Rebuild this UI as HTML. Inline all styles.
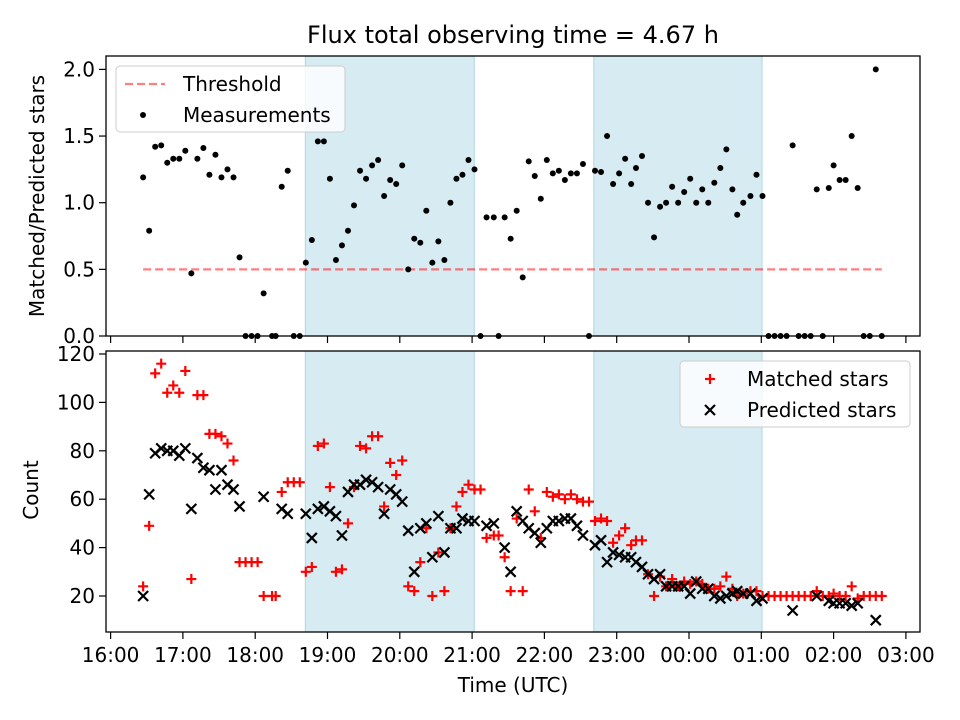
<!DOCTYPE html>
<html><head><meta charset="utf-8"><style>
html,body{margin:0;padding:0;background:#fff;}
svg{display:block;font-family:"DejaVu Sans","Liberation Sans",sans-serif;}
</style></head><body>
<svg id="fig" width="960" height="720" viewBox="0 0 960 720" xmlns="http://www.w3.org/2000/svg">
<rect x="0" y="0" width="960" height="720" fill="#fff"/>
<text x="513" y="43" font-size="24" text-anchor="middle" fill="#000">Flux total observing time = 4.67 h</text>
<g id="panelTop"></g>
<g id="panelBot"></g>
<text x="513" y="692" font-size="20" text-anchor="middle">Time (UTC)</text>
<text transform="translate(44,196) rotate(-90)" font-size="20" text-anchor="middle">Matched/Predicted stars</text>
<text transform="translate(38,490) rotate(-90)" font-size="20" text-anchor="middle">Count</text>
</svg>
<script>
// minutes since 16:00 UTC
const times = [27,32,37,42,47,52,57,62,67,72,77,82,87,92,97,102,107,112,117,122,127,134,137,142,147,152,157,162,167,172,177,182,187,192,197,202,207,212,217,222,227,232,237,242,247,252,257,262,267,272,277,282,287,292,297,302,307,312,318,322,327,332,337,342,347,352,357,362,367,372,377,382,387,392,397,402,407,412,417,422,427,432,436,441,446,451,456,461,466,471,476,481,486,491,496,501,506,511,516,520,525,531,536,541,546,551,556,561,566,571,576,581,586,591,596,600,605,610,615,620,625,630,635,640];
const ratio = [1.19,0.79,1.42,1.43,1.30,1.33,1.33,1.39,0.47,1.33,1.41,1.21,1.36,1.19,1.25,1.19,0.59,0,0,0,0.32,0,0,1.12,1.24,0,0,0.55,0.72,1.46,1.46,1.18,0.57,0.68,0.79,0.98,1.24,1.18,1.28,1.32,1.05,1.17,1.14,1.28,0.50,0.73,0.70,0.94,0.55,0.71,0.57,1.0,1.18,1.21,1.32,1.25,0,0.89,0.89,0,0.89,0.73,0.94,0.44,1.31,1.20,1.03,1.32,1.22,1.24,1.17,1.22,1.22,1.29,0,1.24,1.23,1.50,1.14,1.22,1.33,1.14,1.26,1.35,1.0,0.74,0.97,1.0,1.12,1.0,1.08,1.18,1.0,1.10,1.0,1.15,1.26,1.40,1.10,0.91,1.0,1.05,1.21,1.05,0,0,0,0,1.43,0,0,0,1.10,0,1.11,1.28,1.17,1.17,1.50,1.11,0,0,2.0,0];
const matched = [24,49,112,116,104,107,104,113,27,103,103,87,87,86,83,76,34,34,34,34,20,20,20,63,67,67,67,30,32,82,83,65,30,31,50,65,82,81,86,86,57,75,70,76,24,22,34,48,20,38,22,48,57,63,66,64,64,44,45,45,36,22,52,22,64,55,44,63,61,62,60,62,60,59,59,51,52,51,42,45,48,41,43,43,29,20,28,24,27,24,26,25,26,25,23,23,24,28,23,20,21,22,22,20,20,20,20,20,20,20,20,20,22,20,20,21,20,20,24,19,20,20,20,20];
const predicted = [20,62,79,81,80,80,78,81,56,77,73,72,64,72,66,64,57,null,null,null,61,null,null,56,54,null,null,54,44,56,57,55,53,45,63,66,66,68,67,65,54,64,62,59,47,30,48,50,36,53,38,48,48,52,51,51,null,49,50,null,40,30,55,51,48,46,42,48,51,51,52,52,49,45,null,41,43,34,38,37,36,36,34,32,29,27,29,24,24,24,24,21,26,23,23,20,19,20,21,22,21,21,18,19,null,null,null,null,14,null,null,null,20,null,18,17,17,17,16,17,null,null,10,null];
const topTicks = [0,0.5,1.0,1.5,2.0];
const topTickLabels = ["0.0","0.5","1.0","1.5","2.0"];
const botTicks = [20,40,60,80,100,120];
const xTicks = [0,60,120,180,240,300,360,420,480,540,600,660];
const xTickLabels = ["16:00","17:00","18:00","19:00","20:00","21:00","22:00","23:00","00:00","01:00","02:00","03:00"];
const threshold = 0.5;
const nightSpans = [[161.6,301.8],[401,540.6]];

const NS="http://www.w3.org/2000/svg";
const L=106,R=920, T1=56,B1=336, T2=351,B2=632;
const xs = m => 110.6 + m/60*72.3;
const y1 = v => 336 - v*133.3;
const y2 = v => 354 + (120-v)*2.42;
function mk(parent,tag,attrs){const e=document.createElementNS(NS,tag);for(const k in attrs)e.setAttribute(k,attrs[k]);parent.appendChild(e);return e;}
const gTop=document.getElementById('panelTop'), gBot=document.getElementById('panelBot');

function panel(g,T,B){
  nightSpans.forEach(s=>{
    const r=mk(g,'rect',{x:xs(s[0]),y:T,width:xs(s[1])-xs(s[0]),height:B-T,fill:'#add8e6','fill-opacity':0.5,stroke:'#add8e6','stroke-width':1});
    
    
  });
  xTicks.forEach((m,i)=>{
    const t=mk(g,'line',{x1:xs(m),x2:xs(m),y1:B,y2:B+7,stroke:'#000','stroke-width':1.2});
    
    
  });
}
panel(gTop,T1,B1); panel(gBot,T2,B2);

topTicks.forEach((v,i)=>{
  mk(gTop,'line',{x1:L-7,x2:L,y1:y1(v),y2:y1(v),stroke:'#000','stroke-width':1.2});
  const t=mk(gTop,'text',{x:L-11,y:y1(v)+7,'font-size':20,'text-anchor':'end'});
  t.textContent=topTickLabels[i];
  
  
});
botTicks.forEach(v=>{
  mk(gBot,'line',{x1:L-7,x2:L,y1:y2(v),y2:y2(v),stroke:'#000','stroke-width':1.2});
  const t=mk(gBot,'text',{x:L-11,y:y2(v)+7,'font-size':20,'text-anchor':'end'});
  t.textContent=String(v);
  
  
});
xTicks.forEach((m,i)=>{
  const t=mk(gBot,'text',{x:xs(m),y:662,'font-size':20,'text-anchor':'middle'});
  t.textContent=xTickLabels[i];
  
  
});

const th=mk(gTop,'line',{x1:xs(times[0]),x2:xs(times[times.length-1]),y1:y1(threshold),y2:y1(threshold),stroke:'#ff0000','stroke-opacity':0.5,'stroke-width':2.2,'stroke-dasharray':'8,4'});



times.forEach((m,i)=>{
  const c=mk(gTop,'circle',{cx:xs(m),cy:y1(ratio[i]),r:3,fill:'#000'});
  
  
});
times.forEach((m,i)=>{
  const x=xs(m),y=y2(matched[i]);
  const p=mk(gBot,'path',{d:`M${x-5},${y}H${x+5}M${x},${y-5}V${y+5}`,stroke:'#ff0000','stroke-width':2.2,fill:'none'});
  
  
});
times.forEach((m,i)=>{
  if(predicted[i]===null)return;
  const x=xs(m),y=y2(predicted[i]);
  const p=mk(gBot,'path',{d:`M${x-5},${y-5}L${x+5},${y+5}M${x-5},${y+5}L${x+5},${y-5}`,stroke:'#000','stroke-width':2.2,fill:'none'});
  
  
});

[[gTop,T1,B1],[gBot,T2,B2]].forEach(([g,T,B])=>{
  const s=mk(g,'rect',{x:L,y:T,width:R-L,height:B-T,fill:'none',stroke:'#000','stroke-width':1.3});
  
  
});

function legend(g,x,y,w,h,items){
  const lg=mk(g,'g',{});
  
  
  mk(lg,'rect',{x:x,y:y,width:w,height:h,rx:4,fill:'#fff','fill-opacity':0.8,stroke:'#ccc','stroke-width':1});
  items.forEach((it,i)=>{
    const cy=y+18+i*31;
    const e=mk(lg,'g',{});
    
    
    it.draw(e,x+30,cy);
    const t=mk(e,'text',{x:x+67,y:cy+7,'font-size':20});
    t.textContent=it.label;
  });
}
legend(gTop,116,66,229,66,[
 {label:'Threshold',draw:(e,cx,cy)=>mk(e,'line',{x1:cx-21,x2:cx+19,y1:cy,y2:cy,stroke:'#ff0000','stroke-opacity':0.5,'stroke-width':2.2,'stroke-dasharray':'8,4'})},
 {label:'Measurements',draw:(e,cx,cy)=>mk(e,'circle',{cx:cx-3,cy:cy,r:3,fill:'#000'})}
]);
legend(gBot,680,361,230,66,[
 {label:'Matched stars',draw:(e,cx,cy)=>mk(e,'path',{d:`M${cx-5},${cy}H${cx+5}M${cx},${cy-5}V${cy+5}`,stroke:'#f00','stroke-width':2.2})},
 {label:'Predicted stars',draw:(e,cx,cy)=>mk(e,'path',{d:`M${cx-5},${cy-5}L${cx+5},${cy+5}M${cx-5},${cy+5}L${cx+5},${cy-5}`,stroke:'#000','stroke-width':2.2})}
]);
</script>
</body></html>
